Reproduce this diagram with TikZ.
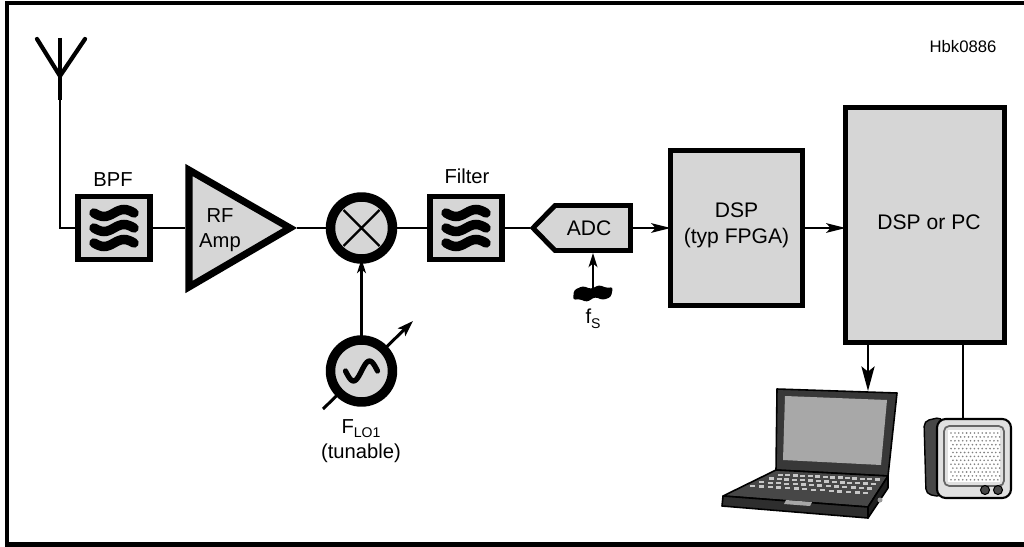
\documentclass[tikz,border=0pt]{standalone}
\usepackage{fontspec}
\setmainfont{Liberation Sans}
\usetikzlibrary{arrows.meta,calc}
\definecolor{boxgray}{gray}{0.84}
\definecolor{screengray}{gray}{0.66}
\tikzset{
  wire/.style={line width=1.2pt},
  arr/.style={wire,-{Stealth[length=11pt,width=5.5pt,inset=2.5pt]}},
  lbl/.style={font=\fontsize{11.5}{14.5}\selectfont,inner sep=0pt,align=center},
  fltbox/.style={draw,fill=boxgray,line width=3.4pt,inner sep=0pt,outer sep=0pt,
                 minimum width=1.44cm,minimum height=1.26cm},
  bigbox/.style={draw,fill=boxgray,line width=2.8pt,inner sep=0pt,outer sep=0pt},
  ring/.style={circle,draw,fill=boxgray,line width=5.4pt,minimum size=1.24cm,
               inner sep=0pt,outer sep=0pt},
  waves/.pic={
    \foreach \dy in {-15,0,15}
      \draw[line width=5.4pt,line cap=round]
        plot[domain=-1:1,samples=25,smooth] ({20*\x},{\dy-3.5*sin(180*\x)});
  }
}
\begin{document}
\begin{tikzpicture}[x=0.02cm,y=-0.02cm]
\useasboundingbox (0,0) rectangle (1024,547);
% outer frame
\draw[line width=2.3pt] (7,3) rectangle (1040,544.5);
\node[font=\fontsize{9.5}{11}\selectfont,inner sep=0pt] (hbk) at (963,47) {Hbk0886};

% antenna
\coordinate (ant) at (60,100);
\draw[line width=2.6pt] (60,38) -- (ant);
\draw[line width=2.4pt,line cap=round,line join=round] (37,39) -- (60,76) -- (85,39);

% band-pass filter
\node[fltbox] (bpf) at (114,228) {};
\pic at (bpf) {waves};
\node[lbl] (bpflbl) at (113,180) {BPF};

% RF amplifier
\coordinate (ampin) at (185,228);
\coordinate (ampout) at (297,228);
\draw[fill=boxgray,line width=4pt,line join=miter] (189,170) -- (189,287) -- (290,228) -- cycle;
\node[lbl] (amplbl) at (220,230) {RF\\Amp};

% mixer
\node[ring] (mix) at (361.5,228) {};
\draw[line width=1.3pt] ($(mix)+(-18,-18)$) -- ($(mix)+(18,18)$)
                        ($(mix)+(-18,18)$) -- ($(mix)+(18,-18)$);

% local oscillator, tuning arrow runs behind the ring
\coordinate (tunA) at (323,409);
\coordinate (tunB) at (413,321);
\draw[line width=1.7pt,-{Stealth[length=9pt,width=6pt,inset=2pt]}] (tunA) -- (tunB);
\node[ring] (lo) at (361.5,371) {};
\draw[line width=3pt,line join=round,line cap=round]
  plot[domain=-1:1,samples=25,smooth] ({361.5+16*\x},{371-10*sin(180*\x)});
\node[lbl] (lolbl) at (361,441) {F\raisebox{-0.45ex}{\fontsize{8}{9}\selectfont LO1}\\(tunable)};

% IF filter
\node[fltbox] (filt) at (466,228) {};
\pic at (filt) {waves};
\node[lbl] (filtlbl) at (467,176) {Filter};

% ADC
\coordinate (adcin) at (530,228);
\coordinate (adcout) at (633,228);
\coordinate (adcbot) at (593,253);
\draw[fill=boxgray,line width=2.8pt] (533,228) -- (555,205.5) -- (630.5,205.5)
      -- (630.5,250.5) -- (555,250.5) -- cycle;
\node[lbl,font=\fontsize{12}{14}\selectfont] (adclbl) at (589,228) {ADC};

% sample clock
\fill[rounded corners=1.5pt] (574,290) -- (583,286) -- (591,289) -- (599,285) -- (607,288) -- (613,287)
      -- (611,297) -- (603,300) -- (595,297) -- (587,302) -- (579,299) -- (573,300) -- cycle;
\coordinate (fs) at (593,288);
\node[lbl] (fslbl) at (593,319) {f\raisebox{-0.45ex}{\fontsize{8}{9}\selectfont S}};

% processing blocks
\node[bigbox,minimum width=2.64cm,minimum height=3.1cm] (dsp) at (736.5,228) {};
\node[lbl,font=\fontsize{12}{14.8}\selectfont] (dsplbl) at (736.5,225) {DSP\\(typ FPGA)};
\node[bigbox,minimum width=3.18cm,minimum height=4.7cm] (pc) at (925,225) {};
\node[lbl,font=\fontsize{12}{14}\selectfont] (pclbl) at (929,222) {DSP or PC};

% laptop
\coordinate (laptop) at (868,391);
\filldraw[fill=black!78,draw=black,line width=0.9pt,line join=round]
  (777,389) -- (897,393) -- (888,476) -- (776,470) -- cycle;
\fill[screengray] (785,396) -- (887,400) -- (881,465) -- (783,460) -- cycle;
\filldraw[fill=black!72,draw=black,line width=0.9pt,line join=round]
  (776,470) -- (888,476) -- (868,507) -- (723,496) -- cycle;
\filldraw[fill=black!82,draw=black,line width=0.9pt,line join=round]
  (723,496) -- (868,507) -- (868,518) -- (722,506) -- cycle;
\filldraw[fill=black!88,draw=black,line width=0.9pt,line join=round]
  (868,507) -- (888,476) -- (888,488) -- (868,518) -- cycle;
\coordinate (kbl) at (780,473);
\coordinate (kbr) at (884,478);
\coordinate (kfr) at (870,496);
\coordinate (kfl) at (742,488);
\foreach \t in {0.1,0.35,0.6,0.85}
  \foreach \s in {0.04,0.11,...,0.97}
    \fill[black!22] ($($(kbl)!\t!(kfl)$)!\s!($(kbr)!\t!(kfr)$)$) ++(-2.5,-1.2) rectangle ++(5,2.4);
\fill[black!35] (786,500) -- (812,502) -- (810,506) -- (784,504) -- cycle;
\fill[black!40] (880,500) circle (2.5);

% loudspeaker
\coordinate (spk) at (963,418);
\filldraw[fill=black!72,draw=black,line width=0.8pt,rounded corners=3pt]
  (924,421) -- (942,417) -- (942,497) -- (926,494) -- cycle;
\filldraw[fill=black!12,draw=black,line width=1.2pt,rounded corners=5pt]
  (937,419) rectangle (1011,498);
\draw[black!60,line width=1pt,rounded corners=3pt] (944,426) rectangle (1004,486);
\fill[white] (948,430) rectangle (1000,482);
\foreach \i in {0,...,12}
  \foreach \j in {0,...,12}
    \fill[black!50] ({951+\i*3.9+mod(\j,2)*1.9},{433+\j*3.9}) circle (0.9);
\filldraw[fill=black!72,draw=black,line width=0.6pt] (985,490) circle (4.5);
\filldraw[fill=black!72,draw=black,line width=0.6pt] (998,490) circle (4.5);

% signal path
\draw[wire] (ant) |- (bpf.west);
\draw[wire] (bpf.east) -- (ampin);
\draw[wire] (ampout) -- (mix.west);
\draw[wire] (mix.east) -- (filt.west);
\draw[wire] (filt.east) -- (adcin);
\draw[arr] (adcout) -- (dsp.west);
\draw[arr] (dsp.east) -- (dsp.east -| pc.west);
\draw[arr,-{Stealth[length=8pt,width=5pt,inset=2pt]}] (lo.north) -- (mix.south);
\draw[arr,-{Stealth[length=8pt,width=5pt,inset=2pt]}] (fs) -- (adcbot);
\draw[arr,-{Stealth[length=14pt,width=7.5pt,inset=3pt]}] (pc.south -| laptop) -- (laptop);
\draw[wire] (pc.south -| spk) -- (spk);
\end{tikzpicture}
\end{document}
